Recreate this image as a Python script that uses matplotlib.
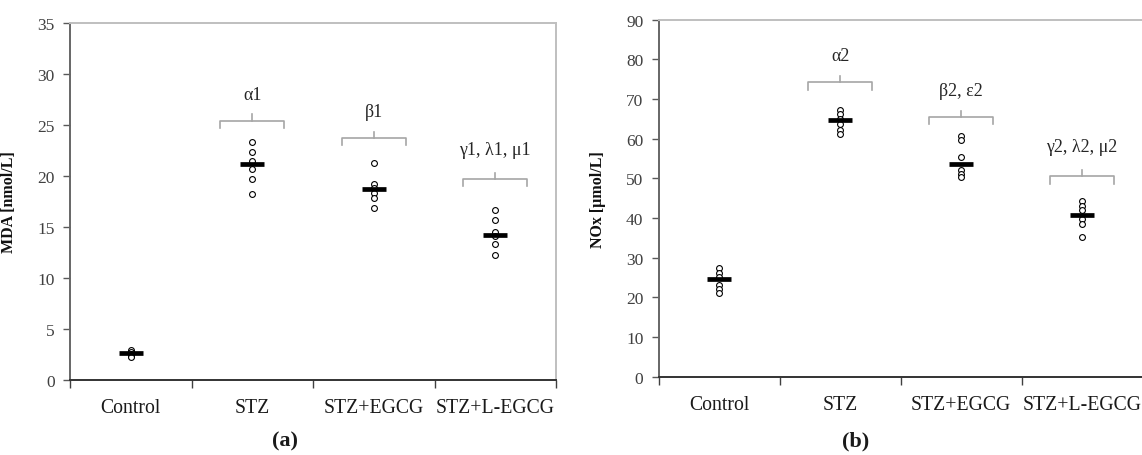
import numpy as np
import matplotlib
matplotlib.use("Agg")
import matplotlib.pyplot as plt
from matplotlib.transforms import blended_transform_factory

plt.rcParams['font.family'] = ['Liberation Serif', 'DejaVu Serif']

groups = ['Control', 'STZ', 'STZ+EGCG', 'STZ+L-EGCG']

# panel (a) MDA, nmol/L
mda_points = [
    [2.9, 2.7, 2.5, 2.3, 2.2],
    [23.3, 22.3, 21.5, 20.7, 19.7, 18.2],
    [21.3, 19.2, 18.8, 18.3, 17.8, 16.8],
    [16.7, 15.7, 14.5, 14.1, 13.3, 12.2],
]
mda_mean = [2.6, 21.2, 18.7, 14.2]
mda_signif = ['α1', 'β1', 'γ1, λ1, μ1']

# panel (b) NOx, umol/L
nox_points = [
    [27.4, 26.1, 25.2, 23.1, 22.1, 21.2],
    [67.3, 66.2, 65.0, 63.8, 62.3, 61.1],
    [60.7, 59.7, 55.5, 52.2, 51.2, 50.4],
    [44.3, 43.0, 41.9, 39.8, 38.6, 35.3],
]
nox_mean = [24.6, 64.6, 53.6, 40.8]
nox_signif = ['α2', 'β2, ε2', 'γ2, λ2, μ2']

# bracket levels / label levels (annotations above groups 2-4)
mda_bracket = [25.4, 23.7, 19.7]
mda_label = [28.0, 26.3, 22.6]
nox_bracket = [74.2, 65.4, 50.5]
nox_label = [80.9, 72.1, 58.1]

W, H = 1142, 456
fig = plt.figure(figsize=(W / 100, H / 100), dpi=100)

ax1 = fig.add_axes([70 / W, 1 - 380.7 / H, (556 - 70) / W, (380.7 - 24) / H])
ax2 = fig.add_axes([658.7 / W, 1 - 377.7 / H, (1142.5 - 658.7) / W, (377.7 - 20.7) / H])


def draw_panel(ax, points, means, signif, br_y, lab_y, ymax, ystep, ylabel, ylab_x):
    x = np.arange(len(groups)) + 0.5
    for i, pts in enumerate(points):
        ax.plot([x[i]] * len(pts), pts, 'o', ms=4.2, mfc='white', mec='black',
                mew=0.8, zorder=3, ls='none')
    for i, m in enumerate(means):
        ax.plot([x[i] - 0.1, x[i] + 0.1], [m, m], color='black', lw=3.4,
                solid_capstyle='butt', zorder=4)

    drop = 0.02 * ymax
    up = 0.018 * ymax
    hw = 0.265
    for k, txt in enumerate(signif):
        cx = x[k + 1]
        yb = br_y[k]
        ax.plot([cx - hw, cx - hw, cx + hw, cx + hw], [yb - drop, yb, yb, yb - drop],
                color='#a6a6a6', lw=1.2, zorder=2)
        ax.plot([cx, cx], [yb, yb + up], color='#a6a6a6', lw=1.2, zorder=2)
        ax.text(cx, lab_y[k], txt, ha='center', va='center', fontsize=13,
                color='#262626')

    ax.set_xlim(0, len(groups))
    ax.set_ylim(0, ymax)
    ax.set_yticks(np.arange(0, ymax + 1, ystep))
    ax.tick_params(axis='y', direction='out', length=5, width=1.0, color='#595959',
                   labelsize=12.5, labelcolor='#404040', pad=6)
    ax.set_xticks(np.arange(len(groups) + 1))
    ax.set_xticklabels([])
    ax.set_xticks(x, minor=True)
    ax.set_xticklabels(groups, minor=True, fontsize=14.2, color='#1a1a1a')
    ax.tick_params(axis='x', which='major', direction='out', length=6, width=1.0,
                   color='#404040')
    ax.tick_params(axis='x', which='minor', length=0, pad=13)

    ax.spines['left'].set_color('#666666')
    ax.spines['left'].set_linewidth(1.4)
    ax.spines['bottom'].set_color('#333333')
    ax.spines['bottom'].set_linewidth(1.4)
    for s in ['top', 'right']:
        ax.spines[s].set_color('#bfbfbf')
        ax.spines[s].set_linewidth(1.4)

    ax.set_ylabel(ylabel, fontsize=11.5, fontweight='bold', color='#111111')
    ax.yaxis.set_label_coords(ylab_x, 0.5,
                              transform=blended_transform_factory(fig.transFigure, ax.transAxes))


draw_panel(ax1, mda_points, mda_mean, mda_signif, mda_bracket, mda_label,
           35, 5, 'MDA [nmol/L]', 17 / W)
draw_panel(ax2, nox_points, nox_mean, nox_signif, nox_bracket, nox_label,
           90, 10, 'NOx [µmol/L]', 606 / W)

fig.text(285 / W, 1 - 441 / H, '(a)', ha='center', va='center', fontsize=16,
         fontweight='bold', color='#1a1a1a')
fig.text(856 / W, 1 - 441 / H, '(b)', ha='center', va='center', fontsize=16,
         fontweight='bold', color='#1a1a1a')

fig.savefig('out.png', dpi=100)
